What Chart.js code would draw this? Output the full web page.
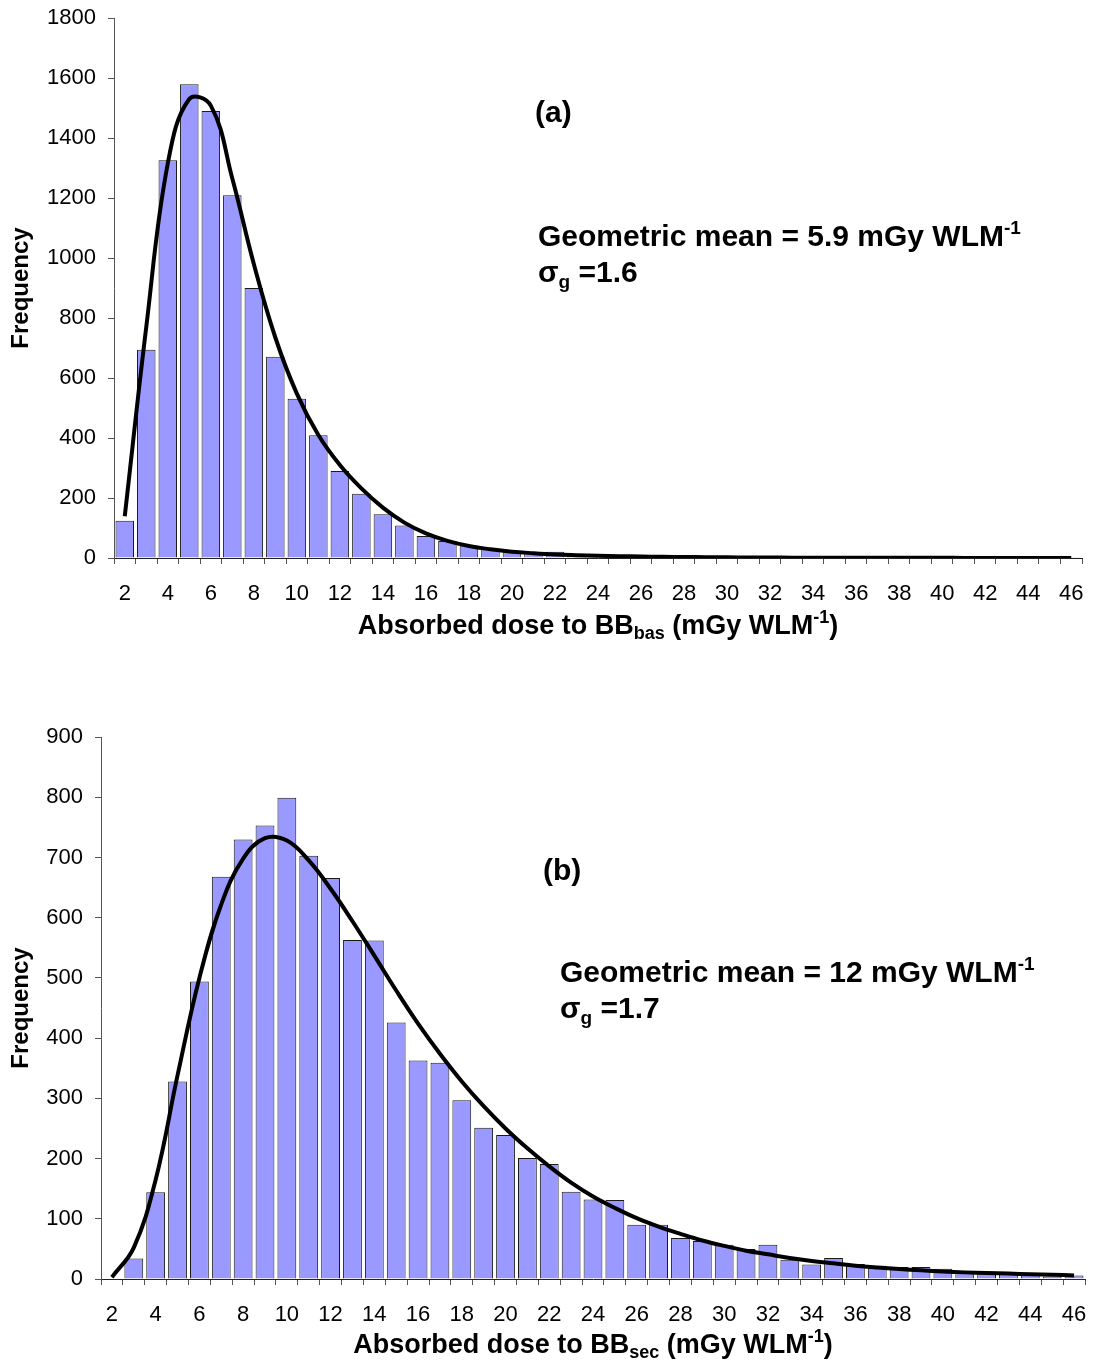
<!DOCTYPE html>
<html><head><meta charset="utf-8">
<script src="https://cdn.jsdelivr.net/npm/chart.js@4.4.1/dist/chart.umd.min.js"></script>
<style>
html,body{margin:0;padding:0;background:#fff;}
#c1{position:absolute;left:0;top:0;}
#c2{position:absolute;left:0;top:660px;}
</style></head><body>
<canvas id="c1" width="1093" height="660"></canvas>
<canvas id="c2" width="1093" height="700"></canvas>
<script>
// ---- data ----
const doseBins = [2,3,4,5,6,7,8,9,10,11,12,13,14,15,16,17,18,19,20,21,22,23,24,25,26,27,28,29,30,31,32,33,34,35,36,37,38,39,40,41,42,43,44,45,46];
const xTickLabels = [2,4,6,8,10,12,14,16,18,20,22,24,26,28,30,32,34,36,38,40,42,44,46];

const bbBasFrequency = [124,694,1326,1579,1490,1209,900,671,531,409,290,214,146,108,73,57,42,31,23,17,21,13,9,7,5,4,5,3,3,2,2,2,1,2,1,1,1,1,1,0,1,0,0,1,1];
const bbBasFit = [139,770,1315,1530,1508,1265,980,735,548,410,310,232,168,118,82,57,40,29,21,16,12,9.5,7.5,6,5,4,3.3,2.7,2.2,1.8,1.5,1.2,1,0.9,0.8,0.7,0.6,0.5,0.45,0.4,0.35,0.3,0.25,0.2,0.2];
const bbBasYTicks = [0,200,400,600,800,1000,1200,1400,1600,1800];

const bbSecFrequency = [0,34,144,328,494,668,730,753,799,703,666,563,562,426,363,359,297,251,239,201,191,145,132,131,90,90,68,63,57,50,57,32,24,35,25,22,20,20,17,13,12,10,8,4,6];
const bbSecFit = [3,52,165,338,500,622,698,732,728,695,648,594,537,479,424,374,328,287,250,217,187,160,137,118,101,87,75,64,55,47,41,35,30,26,22,19,16.5,14.5,12.5,11,10,9,8,7,6];
const bbSecYTicks = [0,100,200,300,400,500,600,700,800,900];

// ---- drawing helpers ----
const FONT = '"Liberation Sans", Arial, Helvetica, sans-serif';

function drawRuns(ctx, x, y, runs, align) {
  ctx.save();
  ctx.fillStyle = '#000';
  ctx.textBaseline = 'alphabetic';
  ctx.textAlign = 'left';
  let total = 0;
  const w = runs.map(r => { ctx.font = 'bold ' + r.size + 'px ' + FONT; const m = ctx.measureText(r.t).width; total += m; return m; });
  let cx = align === 'center' ? x - total / 2 : x;
  runs.forEach((r, i) => { ctx.font = 'bold ' + r.size + 'px ' + FONT; ctx.fillText(r.t, cx, y + (r.dy || 0)); cx += w[i]; });
  ctx.restore();
}

const richText = {
  id: 'richText',
  afterDraw(chart, args, opts) {
    const ca = chart.chartArea;
    (opts.items || []).forEach(it => {
      const x = it.align === 'center' ? (ca.left + ca.right) / 2 : it.x;
      const y = it.fromBottom != null ? ca.bottom + it.fromBottom : it.y;
      drawRuns(chart.ctx, x, y, it.runs, it.align);
    });
  }
};

function noEdgePadding(s) { s.paddingTop = 0; s.paddingBottom = 0; s.paddingLeft = 0; s.paddingRight = 0; }

function makeChart(canvas, cfg) {
  const ticks = cfg.yTicks;
  return new Chart(canvas, {
    type: 'bar',
    data: {
      labels: doseBins,
      datasets: [
        { type: 'line', data: cfg.fit, borderColor: '#000', borderWidth: 4, pointRadius: 0, pointHoverRadius: 0, tension: 0.4, fill: false, order: 0 },
        { type: 'bar', data: cfg.freq, backgroundColor: '#9999FF', borderColor: '#1a1a1a', borderWidth: 1, barPercentage: 0.86, categoryPercentage: 1, order: 1 }
      ]
    },
    options: {
      responsive: false, animation: false, devicePixelRatio: 1,
      layout: { padding: { left: 0, right: cfg.padRight, top: cfg.padTop, bottom: 0 } },
      plugins: { legend: { display: false }, tooltip: { enabled: false }, richText: { items: cfg.items } },
      scales: {
        x: {
          grid: { offset: true, drawOnChartArea: false, drawTicks: true, tickLength: 6, color: '#555' },
          border: { color: '#222', width: 1 },
          ticks: {
            autoSkip: false, maxRotation: 0, minRotation: 0, padding: 17, color: '#000',
            font: { family: FONT, size: 22 },
            callback(v, i) { const l = doseBins[i]; return xTickLabels.includes(l) ? String(l) : ''; }
          },
          afterFit(s) { s.height = cfg.xHeight; noEdgePadding(s); }
        },
        y: {
          min: ticks[0], max: ticks[ticks.length - 1],
          ticks: { stepSize: ticks[1] - ticks[0], padding: 12, color: '#000', font: { family: FONT, size: 22 },
                   callback(v) { return String(v); } },
          grid: { drawOnChartArea: false, drawTicks: true, tickLength: 6, color: '#555' },
          border: { color: '#555', width: 1 },
          title: { display: true, text: 'Frequency', color: '#000', font: { family: FONT, size: 24, weight: 'bold' }, padding: { top: 7, bottom: 0 } },
          afterFit(s) { s.width = cfg.yWidth; noEdgePadding(s); }
        }
      }
    },
    plugins: [richText]
  });
}

makeChart(document.getElementById('c1'), {
  freq: bbBasFrequency, fit: bbBasFit, yTicks: bbBasYTicks,
  yWidth: 114, xHeight: 102, padTop: 18, padRight: 11,
  items: [
    { x: 535, y: 122, runs: [{ t: '(a)', size: 30 }] },
    { x: 538, y: 246, runs: [{ t: 'Geometric mean = 5.9 mGy WLM', size: 30 }, { t: '-1', size: 19, dy: -12 }] },
    { x: 538, y: 282, runs: [{ t: 'σ', size: 30 }, { t: 'g', size: 19, dy: 6 }, { t: ' =1.6', size: 30 }] },
    { align: 'center', fromBottom: 76, runs: [{ t: 'Absorbed dose to BB', size: 27 }, { t: 'bas', size: 18, dy: 5 }, { t: ' (mGy WLM', size: 27 }, { t: '-1', size: 18, dy: -11 }, { t: ')', size: 27 }] }
  ]
});

makeChart(document.getElementById('c2'), {
  freq: bbSecFrequency, fit: bbSecFit, yTicks: bbSecYTicks,
  yWidth: 101, xHeight: 81, padTop: 77, padRight: 8,
  items: [
    { x: 543, y: 220, runs: [{ t: '(b)', size: 30 }] },
    { x: 560, y: 322, runs: [{ t: 'Geometric mean = 12 mGy WLM', size: 30 }, { t: '-1', size: 19, dy: -12 }] },
    { x: 560, y: 358, runs: [{ t: 'σ', size: 30 }, { t: 'g', size: 19, dy: 6 }, { t: ' =1.7', size: 30 }] },
    { align: 'center', fromBottom: 74, runs: [{ t: 'Absorbed dose to BB', size: 27 }, { t: 'sec', size: 18, dy: 5 }, { t: ' (mGy WLM', size: 27 }, { t: '-1', size: 18, dy: -11 }, { t: ')', size: 27 }] }
  ]
});
</script>
</body></html>
